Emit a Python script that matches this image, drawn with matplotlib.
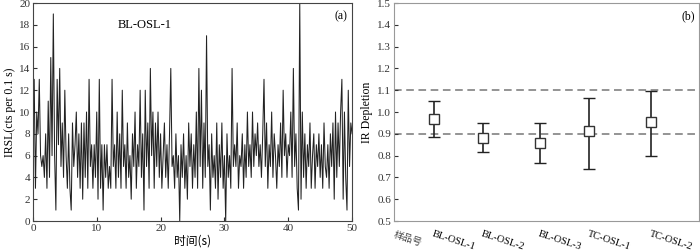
import matplotlib
matplotlib.use("Agg")
import matplotlib.pyplot as plt
import numpy as np

# 글꼴 설정
plt.rcParams['font.family'] = ['Liberation Serif', 'Noto Sans CJK SC']
plt.rcParams['font.size'] = 8

# (a) IRSL 신호 (0.2 s 간격으로 그림에서 읽은 값)
irsl_counts = [
    7, 13, 3, 10, 8, 13, 6, 5, 6, 4,
    8, 3, 11, 4, 15, 6, 19, 6, 1, 13,
    7, 14, 5, 9, 4, 12, 6, 3, 8, 3,
    1, 9, 5, 7, 10, 4, 8, 3, 9, 2,
    9, 4, 10, 3, 13, 5, 7, 3, 7, 4,
    10, 2, 13, 3, 7, 1, 7, 4, 7, 3,
    5, 3, 13, 5, 7, 3, 10, 4, 8, 3,
    12, 5, 7, 3, 9, 4, 6, 2, 8, 5,
    10, 3, 7, 5, 12, 4, 8, 1, 12, 5,
    9, 3, 14, 6, 10, 3, 9, 5, 10, 4,
    8, 3, 6, 9, 4, 7, 3, 8, 14, 5,
    6, 3, 8, 4, 6, 0, 7, 4, 8, 3,
    6, 2, 9, 5, 8, 3, 7, 4, 10, 3,
    14, 5, 12, 3, 9, 4, 17, 5, 7, 1,
    8, 4, 6, 3, 9, 2, 7, 4, 9, 3,
    6, 0, 8, 4, 6, 3, 14, 5, 7, 5,
    9, 3, 6, 5, 8, 3, 7, 4, 10, 5,
    7, 4, 10, 5, 8, 6, 9, 5, 7, 4,
    8, 13, 5, 9, 3, 7, 5, 10, 4, 8,
    6, 3, 7, 5, 9, 4, 12, 6, 8, 4,
    7, 6, 10, 4, 14, 5, 8, 3, 1, 20,
    2, 10, 4, 8, 3, 7, 5, 9, 3, 6,
    8, 3, 7, 5, 8, 4, 7, 3, 9, 5,
    4, 7, 3, 8, 5, 9, 2, 10, 4, 9,
    5, 10, 13, 2, 10, 4, 1, 12, 5, 9,
    8,
]
time_s = np.arange(len(irsl_counts)) * 0.2   # 시간 축

# (b) IR depletion 비율
samples = ['BL-OSL-1', 'BL-OSL-2', 'BL-OSL-3', 'TC-OSL-1', 'TC-OSL-2']
sample_pos = [0.79, 1.75, 2.87, 3.84, 5.06]
depletion = [0.968, 0.880, 0.858, 0.913, 0.955]
err_low = [0.885, 0.818, 0.765, 0.740, 0.800]
err_high = [1.052, 0.948, 0.948, 1.065, 1.097]
limits = [0.9, 1.1]

fig = plt.figure(figsize=(7, 2.52), dpi=100)

# ----- (a) -----
ax1 = fig.add_axes([0.047, 0.123, 0.456, 0.865])
ax1.plot(time_s, irsl_counts, color='#222222', lw=0.75)
ax1.set_xlim(0, 50)
ax1.set_ylim(0, 20)
ax1.set_xticks(range(0, 51, 10))
ax1.set_yticks(range(0, 21, 2))
ax1.tick_params(direction='in', length=3, pad=2, colors='#333333')
for s in ax1.spines.values():
    s.set_color('#444444')
ax1.set_xlabel('时间(s)', labelpad=1, fontsize=8.5,
               family=['Noto Sans CJK SC', 'Liberation Serif'])
ax1.set_ylabel('IRSL(cts per 0.1 s)', labelpad=2, fontsize=8.5)
ax1.text(17.5, 18, 'BL-OSL-1', ha='center', va='center', fontsize=9)
ax1.text(0.985, 0.965, '(a)', transform=ax1.transAxes, ha='right', va='top', fontsize=8.5)

# ----- (b) -----
ax2 = fig.add_axes([0.563, 0.123, 0.436, 0.865])
for y in limits:
    ax2.axhline(y, color='#777777', lw=1.1, ls=(0, (5, 3)), zorder=1)
yerr = [np.array(depletion) - np.array(err_low), np.array(err_high) - np.array(depletion)]
ax2.errorbar(sample_pos, depletion, yerr=yerr, fmt='s', ms=7.5, mfc='white',
             mec='#333333', mew=1.0, ecolor='#222222', elinewidth=1.2,
             capsize=4.3, capthick=1.5, zorder=3)
ax2.set_xlim(0, 6)
ax2.set_ylim(0.5, 1.5)
ax2.set_yticks(np.arange(0.5, 1.51, 0.1))
ax2.set_yticklabels([f'{v:.1f}' for v in np.arange(0.5, 1.51, 0.1)])
ax2.set_xticks(sample_pos)
ax2.set_xticklabels(samples, rotation=-18, ha='left', va='top',
                    rotation_mode='anchor', fontsize=7.5)
ax2.tick_params(axis='x', length=0, pad=6)
ax2.tick_params(axis='y', direction='in', length=3, pad=2, colors='#333333')
for s in ax2.spines.values():
    s.set_color('#999999')
ax2.set_ylabel('IR Depletion', labelpad=3, fontsize=8.5)
ax2.text(0.005, -0.04, '样品号', transform=ax2.transAxes, rotation=-18,
         rotation_mode='anchor', ha='left', va='top', fontsize=7, color='#444444',
         family=['Noto Sans CJK SC'])
ax2.text(0.985, 0.965, '(b)', transform=ax2.transAxes, ha='right', va='top', fontsize=8.5)

fig.savefig('out.png', dpi=100)
